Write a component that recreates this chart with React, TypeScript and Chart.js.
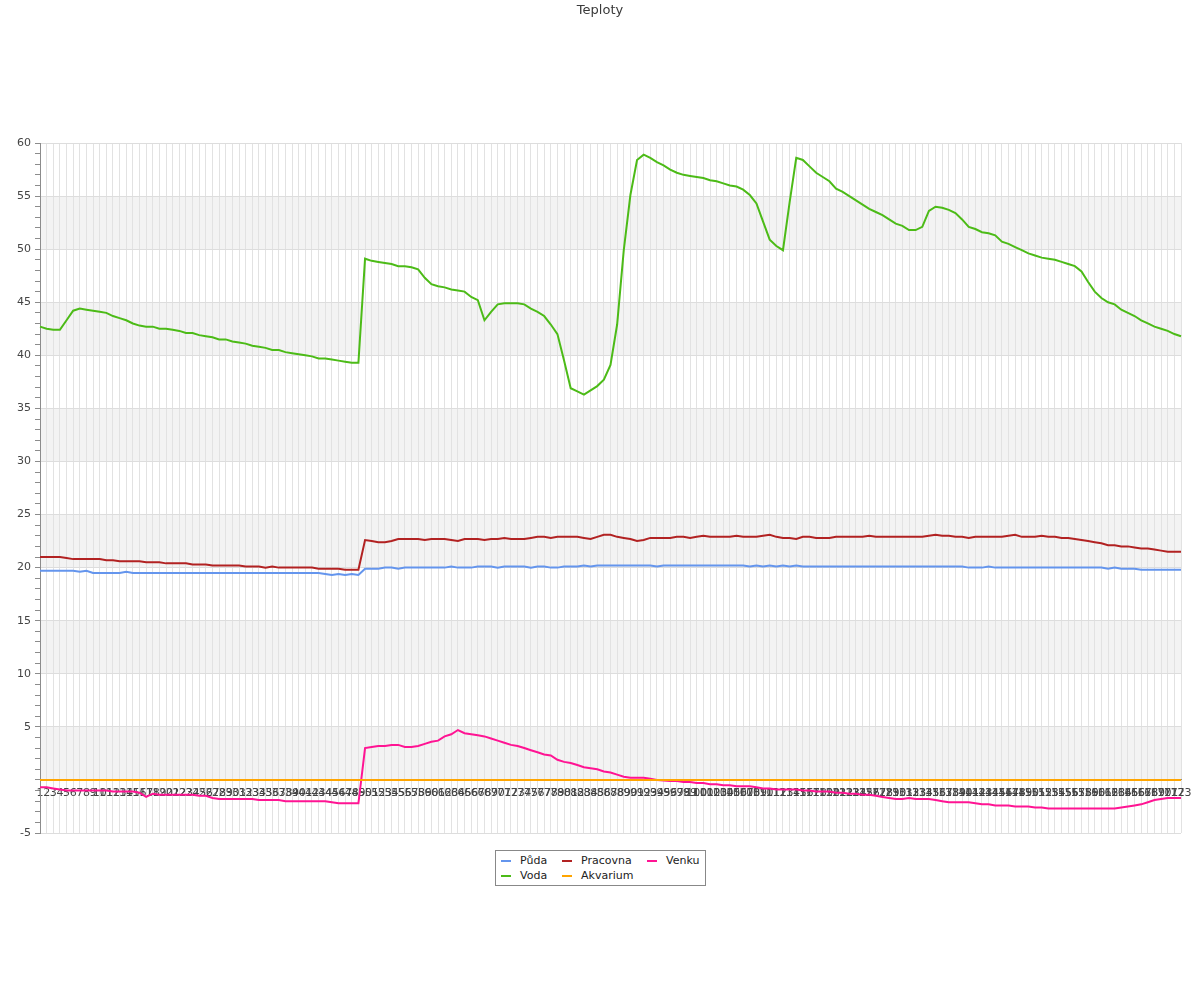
import React, { useEffect, useRef } from 'react';
import { Chart, registerables } from 'chart.js';

Chart.register(...registerables);

const FONT = '"DejaVu Sans", sans-serif';

const labels = [
  1, 2, 3, 4, 5, 6, 7, 8, 9, 10,
  11, 12, 13, 14, 15, 16, 17, 18, 19, 20,
  21, 22, 23, 24, 25, 26, 27, 28, 29, 30,
  31, 32, 33, 34, 35, 36, 37, 38, 39, 40,
  41, 42, 43, 44, 45, 46, 47, 48, 49, 50,
  51, 52, 53, 54, 55, 56, 57, 58, 59, 60,
  61, 62, 63, 64, 65, 66, 67, 68, 69, 70,
  71, 72, 73, 74, 75, 76, 77, 78, 79, 80,
  81, 82, 83, 84, 85, 86, 87, 88, 89, 90,
  91, 92, 93, 94, 95, 96, 97, 98, 99, 100,
  101, 102, 103, 104, 105, 106, 107, 108, 109, 110,
  111, 112, 113, 114, 115, 116, 117, 118, 119, 120,
  121, 122, 123, 124, 125, 126, 127, 128, 129, 130,
  131, 132, 133, 134, 135, 136, 137, 138, 139, 140,
  141, 142, 143, 144, 145, 146, 147, 148, 149, 150,
  151, 152, 153, 154, 155, 156, 157, 158, 159, 160,
  161, 162, 163, 164, 165, 166, 167, 168, 169, 170,
  171, 172, 173,
];

const puda = [
  19.7, 19.7, 19.7, 19.7, 19.7, 19.7, 19.6, 19.7, 19.5, 19.5,
  19.5, 19.5, 19.5, 19.6, 19.5, 19.5, 19.5, 19.5, 19.5, 19.5,
  19.5, 19.5, 19.5, 19.5, 19.5, 19.5, 19.5, 19.5, 19.5, 19.5,
  19.5, 19.5, 19.5, 19.5, 19.5, 19.5, 19.5, 19.5, 19.5, 19.5,
  19.5, 19.5, 19.5, 19.4, 19.3, 19.4, 19.3, 19.4, 19.3, 19.9,
  19.9, 19.9, 20.0, 20.0, 19.9, 20.0, 20.0, 20.0, 20.0, 20.0,
  20.0, 20.0, 20.1, 20.0, 20.0, 20.0, 20.1, 20.1, 20.1, 20.0,
  20.1, 20.1, 20.1, 20.1, 20.0, 20.1, 20.1, 20.0, 20.0, 20.1,
  20.1, 20.1, 20.2, 20.1, 20.2, 20.2, 20.2, 20.2, 20.2, 20.2,
  20.2, 20.2, 20.2, 20.1, 20.2, 20.2, 20.2, 20.2, 20.2, 20.2,
  20.2, 20.2, 20.2, 20.2, 20.2, 20.2, 20.2, 20.1, 20.2, 20.1,
  20.2, 20.1, 20.2, 20.1, 20.2, 20.1, 20.1, 20.1, 20.1, 20.1,
  20.1, 20.1, 20.1, 20.1, 20.1, 20.1, 20.1, 20.1, 20.1, 20.1,
  20.1, 20.1, 20.1, 20.1, 20.1, 20.1, 20.1, 20.1, 20.1, 20.1,
  20.0, 20.0, 20.0, 20.1, 20.0, 20.0, 20.0, 20.0, 20.0, 20.0,
  20.0, 20.0, 20.0, 20.0, 20.0, 20.0, 20.0, 20.0, 20.0, 20.0,
  20.0, 19.9, 20.0, 19.9, 19.9, 19.9, 19.8, 19.8, 19.8, 19.8,
  19.8, 19.8, 19.8,
];

const voda = [
  42.7, 42.5, 42.4, 42.4, 43.3, 44.2, 44.4, 44.3, 44.2, 44.1,
  44.0, 43.7, 43.5, 43.3, 43.0, 42.8, 42.7, 42.7, 42.5, 42.5,
  42.4, 42.3, 42.1, 42.1, 41.9, 41.8, 41.7, 41.5, 41.5, 41.3,
  41.2, 41.1, 40.9, 40.8, 40.7, 40.5, 40.5, 40.3, 40.2, 40.1,
  40.0, 39.9, 39.7, 39.7, 39.6, 39.5, 39.4, 39.3, 39.3, 49.1,
  48.9, 48.8, 48.7, 48.6, 48.4, 48.4, 48.3, 48.1, 47.3, 46.7,
  46.5, 46.4, 46.2, 46.1, 46.0, 45.5, 45.2, 43.3, 44.1, 44.8,
  44.9, 44.9, 44.9, 44.8, 44.4, 44.1, 43.7, 42.9, 42.0, 39.5,
  36.9, 36.6, 36.3, 36.7, 37.1, 37.7, 39.1, 42.9, 49.9, 55.1,
  58.4, 58.9, 58.6, 58.2, 57.9, 57.5, 57.2, 57.0, 56.9, 56.8,
  56.7, 56.5, 56.4, 56.2, 56.0, 55.9, 55.6, 55.1, 54.3, 52.6,
  50.9, 50.3, 49.9, 54.4, 58.6, 58.4, 57.8, 57.2, 56.8, 56.4,
  55.7, 55.4, 55.0, 54.6, 54.2, 53.8, 53.5, 53.2, 52.8, 52.4,
  52.2, 51.8, 51.8, 52.1, 53.6, 54.0, 53.9, 53.7, 53.4, 52.8,
  52.1, 51.9, 51.6, 51.5, 51.3, 50.7, 50.5, 50.2, 49.9, 49.6,
  49.4, 49.2, 49.1, 49.0, 48.8, 48.6, 48.4, 47.9, 46.9, 46.0,
  45.4, 45.0, 44.8, 44.3, 44.0, 43.7, 43.3, 43.0, 42.7, 42.5,
  42.3, 42.0, 41.8,
];

const pracovna = [
  21.0, 21.0, 21.0, 21.0, 20.9, 20.8, 20.8, 20.8, 20.8, 20.8,
  20.7, 20.7, 20.6, 20.6, 20.6, 20.6, 20.5, 20.5, 20.5, 20.4,
  20.4, 20.4, 20.4, 20.3, 20.3, 20.3, 20.2, 20.2, 20.2, 20.2,
  20.2, 20.1, 20.1, 20.1, 20.0, 20.1, 20.0, 20.0, 20.0, 20.0,
  20.0, 20.0, 19.9, 19.9, 19.9, 19.9, 19.8, 19.8, 19.8, 22.6,
  22.5, 22.4, 22.4, 22.5, 22.7, 22.7, 22.7, 22.7, 22.6, 22.7,
  22.7, 22.7, 22.6, 22.5, 22.7, 22.7, 22.7, 22.6, 22.7, 22.7,
  22.8, 22.7, 22.7, 22.7, 22.8, 22.9, 22.9, 22.8, 22.9, 22.9,
  22.9, 22.9, 22.8, 22.7, 22.9, 23.1, 23.1, 22.9, 22.8, 22.7,
  22.5, 22.6, 22.8, 22.8, 22.8, 22.8, 22.9, 22.9, 22.8, 22.9,
  23.0, 22.9, 22.9, 22.9, 22.9, 23.0, 22.9, 22.9, 22.9, 23.0,
  23.1, 22.9, 22.8, 22.8, 22.7, 22.9, 22.9, 22.8, 22.8, 22.8,
  22.9, 22.9, 22.9, 22.9, 22.9, 23.0, 22.9, 22.9, 22.9, 22.9,
  22.9, 22.9, 22.9, 22.9, 23.0, 23.1, 23.0, 23.0, 22.9, 22.9,
  22.8, 22.9, 22.9, 22.9, 22.9, 22.9, 23.0, 23.1, 22.9, 22.9,
  22.9, 23.0, 22.9, 22.9, 22.8, 22.8, 22.7, 22.6, 22.5, 22.4,
  22.3, 22.1, 22.1, 22.0, 22.0, 21.9, 21.8, 21.8, 21.7, 21.6,
  21.5, 21.5, 21.5,
];

const akvarium = [
  0, 0, 0, 0, 0, 0, 0, 0, 0, 0,
  0, 0, 0, 0, 0, 0, 0, 0, 0, 0,
  0, 0, 0, 0, 0, 0, 0, 0, 0, 0,
  0, 0, 0, 0, 0, 0, 0, 0, 0, 0,
  0, 0, 0, 0, 0, 0, 0, 0, 0, 0,
  0, 0, 0, 0, 0, 0, 0, 0, 0, 0,
  0, 0, 0, 0, 0, 0, 0, 0, 0, 0,
  0, 0, 0, 0, 0, 0, 0, 0, 0, 0,
  0, 0, 0, 0, 0, 0, 0, 0, 0, 0,
  0, 0, 0, 0, 0, 0, 0, 0, 0, 0,
  0, 0, 0, 0, 0, 0, 0, 0, 0, 0,
  0, 0, 0, 0, 0, 0, 0, 0, 0, 0,
  0, 0, 0, 0, 0, 0, 0, 0, 0, 0,
  0, 0, 0, 0, 0, 0, 0, 0, 0, 0,
  0, 0, 0, 0, 0, 0, 0, 0, 0, 0,
  0, 0, 0, 0, 0, 0, 0, 0, 0, 0,
  0, 0, 0, 0, 0, 0, 0, 0, 0, 0,
  0, 0, 0,
];

const venku = [
  -0.7, -0.7, -0.8, -0.9, -1.0, -1.0, -1.0, -1.0, -1.0, -1.0,
  -1.0, -1.1, -1.1, -1.1, -1.1, -1.2, -1.6, -1.3, -1.4, -1.4,
  -1.4, -1.4, -1.4, -1.4, -1.5, -1.5, -1.7, -1.8, -1.8, -1.8,
  -1.8, -1.8, -1.8, -1.9, -1.9, -1.9, -1.9, -2.0, -2.0, -2.0,
  -2.0, -2.0, -2.0, -2.0, -2.1, -2.2, -2.2, -2.2, -2.2, 3.0,
  3.1, 3.2, 3.2, 3.3, 3.3, 3.1, 3.1, 3.2, 3.4, 3.6,
  3.7, 4.1, 4.3, 4.7, 4.4, 4.3, 4.2, 4.1, 3.9, 3.7,
  3.5, 3.3, 3.2, 3.0, 2.8, 2.6, 2.4, 2.3, 1.9, 1.7,
  1.6, 1.4, 1.2, 1.1, 1.0, 0.8, 0.7, 0.5, 0.3, 0.2,
  0.2, 0.2, 0.1, 0.0, -0.05, -0.1, -0.1, -0.2, -0.2, -0.3,
  -0.3, -0.4, -0.4, -0.5, -0.5, -0.6, -0.6, -0.6, -0.7, -0.8,
  -0.8, -0.9, -0.9, -0.9, -0.9, -1.0, -1.0, -1.1, -1.1, -1.1,
  -1.2, -1.2, -1.3, -1.3, -1.4, -1.4, -1.5, -1.6, -1.7, -1.8,
  -1.8, -1.7, -1.8, -1.8, -1.8, -1.9, -2.0, -2.1, -2.1, -2.1,
  -2.1, -2.2, -2.3, -2.3, -2.4, -2.4, -2.4, -2.5, -2.5, -2.5,
  -2.6, -2.6, -2.7, -2.7, -2.7, -2.7, -2.7, -2.7, -2.7, -2.7,
  -2.7, -2.7, -2.7, -2.6, -2.5, -2.4, -2.3, -2.1, -1.9, -1.8,
  -1.7, -1.7, -1.7,
];

const seriesNames = ['Půda', 'Voda', 'Pracovna', 'Akvarium', 'Venku'];
const seriesColors = ['#6495ed', '#4cbb17', '#b22222', '#ffa500', '#ff1493'];
const seriesData = [puda, voda, pracovna, akvarium, venku];

const bandRanges = [
  [0, 5],
  [10, 15],
  [20, 25],
  [30, 35],
  [40, 45],
  [50, 55],
];

const bandPlugin = {
  id: 'bands',
  beforeDraw(chart: any) {
    const { ctx, chartArea, scales } = chart;
    const y = scales.y;
    ctx.save();
    ctx.fillStyle = '#f3f3f3';
    for (const [lo, hi] of bandRanges) {
      const top = y.getPixelForValue(hi);
      const bot = y.getPixelForValue(lo);
      ctx.fillRect(chartArea.left, top, chartArea.right - chartArea.left, bot - top);
    }
    ctx.restore();
  },
};

function Legend() {
  const colLeft = [6, 67, 152];
  const rowCenter = [10.5, 26];
  return (
    <div
      style={{
        position: 'absolute',
        left: 495,
        top: 850,
        width: 211,
        height: 36,
        boxSizing: 'border-box',
        border: '1px solid #888',
        background: '#fff',
        fontFamily: FONT,
        fontSize: 11,
        color: '#222',
      }}
    >
      {seriesNames.map((name, i) => {
        const col = Math.floor(i / 2);
        const row = i % 2;
        const cy = rowCenter[row] - 1;
        const lx = colLeft[col] - 1;
        return (
          <React.Fragment key={name}>
            <div
              style={{
                position: 'absolute',
                left: lx,
                top: cy - 1,
                width: 10,
                height: 2,
                background: seriesColors[i],
              }}
            />
            <div
              style={{
                position: 'absolute',
                left: lx + 19,
                top: cy - 7,
                height: 14,
                lineHeight: '14px',
                whiteSpace: 'nowrap',
              }}
            >
              {name}
            </div>
          </React.Fragment>
        );
      })}
    </div>
  );
}

export default function App() {
  const canvasRef = useRef<HTMLCanvasElement | null>(null);

  useEffect(() => {
    if (!canvasRef.current) return;
    const chart = new Chart(canvasRef.current, {
      type: 'line',
      data: {
        labels: labels.map(String),
        datasets: seriesNames.map((name, i) => ({
          label: name,
          data: seriesData[i],
          borderColor: seriesColors[i],
          backgroundColor: seriesColors[i],
          borderWidth: 2,
          pointRadius: 0,
          tension: 0,
          fill: false,
        })),
      },
      options: {
        responsive: false,
        animation: false,
        events: [],
        layout: { padding: { left: 0, right: 0, top: 0, bottom: 167 } },
        plugins: {
          legend: { display: false },
          tooltip: { enabled: false },
          title: {
            display: true,
            text: 'Teploty',
            color: '#3a3a3a',
            font: { family: FONT, size: 13, weight: 'normal' },
            padding: { top: 3, bottom: 124.4 },
          },
        },
        scales: {
          x: {
            position: { y: 0 } as any,
            afterFit: (s: any) => {
              s.paddingRight = 19;
            },
            grid: {
              color: (c: any) => (c.index === 0 ? '#8c8c8c' : '#e2e2e2'),
              lineWidth: 1,
              drawTicks: false,
            },
            border: { color: '#8c8c8c', width: 1 },
            ticks: {
              autoSkip: false,
              maxRotation: 0,
              minRotation: 0,
              padding: 7,
              color: '#444',
              font: { family: FONT, size: 11 },
            },
          },
          y: {
            min: -5,
            max: 60,
            afterFit: (s: any) => {
              s.width = 40;
            },
            grid: {
              color: (c: any) => {
                const v = c.tick ? c.tick.value : 1;
                if (v === 0) return '#8c8c8c';
                return v % 5 === 0 ? '#dddddd' : 'rgba(0,0,0,0)';
              },
              tickColor: '#8c8c8c',
              tickLength: 5,
              lineWidth: 1,
            },
            border: { color: '#8c8c8c', width: 1 },
            ticks: {
              stepSize: 1,
              autoSkip: false,
              maxTicksLimit: 100,
              padding: 4,
              color: '#444',
              font: { family: FONT, size: 11 },
              callback: (v: any) => (Number(v) % 5 === 0 && Number(v) !== 0 ? String(v) : ''),
            },
          },
        },
      },
      plugins: [bandPlugin],
    });
    return () => chart.destroy();
  }, []);

  return (
    <div style={{ position: 'absolute', left: 0, top: 0, width: 1200, height: 1000 }}>
      <canvas ref={canvasRef} width={1200} height={1000} style={{ display: 'block' }} />
      <Legend />
    </div>
  );
}
